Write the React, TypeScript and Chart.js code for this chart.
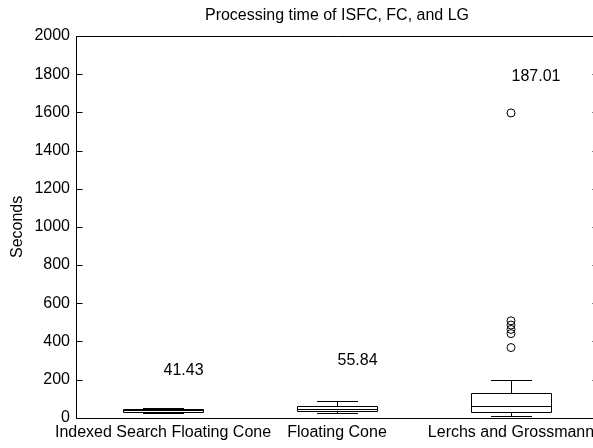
import { useEffect, useRef } from 'react';
import { Chart, registerables } from 'chart.js';

Chart.register(...registerables);

const titleText = 'Processing time of ISFC, FC, and LG';
const categories = ['Indexed Search Floating Cone', 'Floating Cone', 'Lerchs and Grossmann'];
const whiskerLow = [27, 23, 12];
const q1 = [32, 34, 33];
const median = [40, 48, 64];
const q3 = [46, 61, 128];
const whiskerHigh = [52, 89, 196];
const outlierCategory = [3, 3, 3, 3, 3, 3];
const outlierValues = [1597, 508, 486, 463, 441, 368];
const meanLabels = ['41.43', '55.84', '187.01'];
const meanLabelY = [248, 300, 1788];

const FONT = '"Liberation Sans", Arial, Helvetica, sans-serif';
const FS = 16;

const boxPlugin = {
  id: 'boxplotDraw',
  afterDatasetsDraw(chart: any) {
    const { ctx, chartArea: a, scales } = chart;
    const x = scales.x;
    const y = scales.y;
    const px = (v: number) => Math.round(v) + 0.5;
    ctx.save();
    ctx.strokeStyle = '#000';
    ctx.fillStyle = '#000';
    ctx.lineWidth = 1;
    const line = (x1: number, y1: number, x2: number, y2: number) => {
      ctx.beginPath();
      ctx.moveTo(x1, y1);
      ctx.lineTo(x2, y2);
      ctx.stroke();
    };
    // frame
    const L = px(a.left), R = px(a.right), T = px(a.top), B = px(a.bottom);
    line(L, T, R, T);
    line(L, B, R, B);
    line(L, T, L, B);
    line(R, T, R, B);
    // inward ticks
    y.ticks.forEach((t: any) => {
      const py = px(y.getPixelForValue(t.value));
      line(L, py, L + 6, py);
      line(R - 6, py, R, py);
    });
    // boxes
    ctx.font = FS + 'px ' + FONT;
    for (let i = 0; i < categories.length; i++) {
      const xc = px(x.getPixelForValue(i + 1));
      const hw = x.getPixelForValue(1.23) - x.getPixelForValue(1);
      const cw = x.getPixelForValue(1.115) - x.getPixelForValue(1);
      const yLo = px(y.getPixelForValue(whiskerLow[i]));
      const yQ1 = px(y.getPixelForValue(q1[i]));
      const yMd = px(y.getPixelForValue(median[i]));
      const yQ3 = px(y.getPixelForValue(q3[i]));
      const yHi = px(y.getPixelForValue(whiskerHigh[i]));
      line(xc, yHi, xc, yQ3);
      line(xc, yQ1, xc, yLo);
      line(Math.round(xc - cw), yHi, Math.round(xc + cw), yHi);
      line(Math.round(xc - cw), yLo, Math.round(xc + cw), yLo);
      ctx.beginPath();
      ctx.rect(Math.round(xc - hw) + 0.5, yQ3, Math.round(2 * hw), yQ1 - yQ3);
      ctx.stroke();
      line(Math.round(xc - hw), yMd, Math.round(xc + hw), yMd);
      ctx.textAlign = 'left';
      ctx.textBaseline = 'middle';
      ctx.fillText(meanLabels[i], xc, y.getPixelForValue(meanLabelY[i]));
    }
    // title centred over the axes
    ctx.textAlign = 'center';
    ctx.textBaseline = 'middle';
    ctx.fillText(titleText, (a.left + a.right) / 2, 16);
    ctx.restore();
  },
};

export default function App() {
  const ref = useRef<HTMLCanvasElement>(null);
  useEffect(() => {
    if (!ref.current) return;
    const chart = new Chart(ref.current, {
      type: 'scatter',
      data: {
        datasets: [
          {
            data: outlierValues.map((v, i) => ({ x: outlierCategory[i], y: v })),
            pointStyle: 'circle',
            pointRadius: 4,
            pointBorderWidth: 1,
            pointBorderColor: '#000',
            pointBackgroundColor: 'rgba(0,0,0,0)',
            showLine: false,
          },
        ],
      },
      options: {
        responsive: false,
        animation: false,
        devicePixelRatio: 1,
        layout: { padding: { left: 0, right: 22, top: 36, bottom: 3 } },
        plugins: {
          legend: { display: false },
          tooltip: { enabled: false },
          title: { display: false },
        },
        scales: {
          x: {
            type: 'linear',
            min: 0.5,
            max: 3.5,
            afterBuildTicks: (s: any) => {
              s.ticks = [1, 2, 3].map((v) => ({ value: v }));
            },
            grid: { display: false, drawTicks: false },
            border: { display: false },
            ticks: {
              autoSkip: false,
              maxRotation: 0,
              padding: 5,
              color: '#000',
              font: { family: FONT, size: FS },
              callback: (v: any) => categories[Math.round(Number(v)) - 1] ?? '',
            },
          },
          y: {
            type: 'linear',
            min: 0,
            max: 2000,
            afterFit: (s: any) => {
              s.width = 76;
            },
            grid: { display: false, drawTicks: false },
            border: { display: false },
            ticks: {
              stepSize: 200,
              padding: 6,
              color: '#000',
              font: { family: FONT, size: FS },
              callback: (v: any) => String(v),
            },
            title: {
              display: true,
              text: 'Seconds',
              color: '#000',
              font: { family: FONT, size: FS },
              padding: { top: 8, bottom: 0 },
            },
          },
        },
      },
      plugins: [boxPlugin],
    } as any);
    return () => chart.destroy();
  }, []);
  return (
    <div
      style={{
        position: 'fixed',
        left: 0,
        top: 0,
        width: 593,
        height: 448,
        overflow: 'hidden',
        background: '#fff',
      }}
    >
      <canvas ref={ref} width={620} height={450} style={{ display: 'block' }} />
    </div>
  );
}
